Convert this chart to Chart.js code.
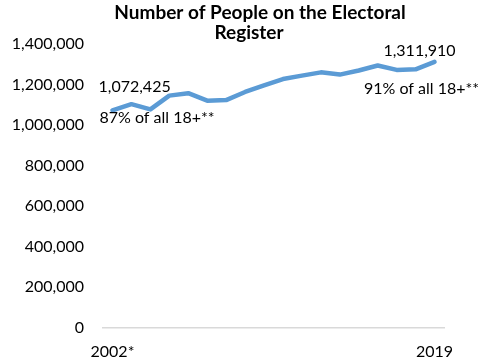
<!DOCTYPE html>
<html>
<head>
<meta charset="utf-8">
<script src="https://cdn.jsdelivr.net/npm/chart.js@4.4.0/dist/chart.umd.min.js"></script>
<style>
  html, body { margin: 0; padding: 0; background: #fff; }
</style>
</head>
<body>
<canvas id="graficoRegistro" width="487" height="364"></canvas>
<script>
// data
const years = ["2002*", "2003", "2004", "2005", "2006", "2007", "2008", "2009", "2010",
  "2011", "2012", "2013", "2014", "2015", "2016", "2017", "2018", "2019"];
const registered = [1072425, 1103000, 1077000, 1145000, 1157000, 1120000, 1123000, 1163000, 1196000,
  1227000, 1244000, 1260000, 1249000, 1269000, 1294000, 1272000, 1275000, 1311910];
const shownYears = ["2002*", "2019"];
const titleLines = ["Number of People on the Electoral", "Register"];
const startNote = "87% of all 18+**";
const endNote = "91% of all 18+**";

const FONT = "Lato, 'Open Sans', sans-serif";
const fmt = (v) => v.toLocaleString("en-US");

// title drawn over the top of the plot, like the original
const tituloPlugin = {
  id: "tituloPlugin",
  afterDraw(chart) {
    const ctx = chart.ctx;
    ctx.save();
    ctx.font = "bold 19px " + FONT;
    ctx.fillStyle = "#000";
    ctx.textAlign = "center";
    ctx.textBaseline = "middle";
    ctx.fillText(titleLines[0], 260, 13);
    ctx.fillText(titleLines[1], 249, 33);
    ctx.restore();
  },
};

// value + share labels at the first and last point
const notasPlugin = {
  id: "notasPlugin",
  afterDatasetsDraw(chart) {
    const ctx = chart.ctx;
    const pts = chart.getDatasetMeta(0).data;
    const first = pts[0];
    const last = pts[pts.length - 1];
    ctx.save();
    ctx.font = "16px " + FONT;
    ctx.fillStyle = "#000";
    ctx.textBaseline = "middle";
    ctx.textAlign = "left";
    ctx.fillText(fmt(registered[0]), first.x - 14, first.y - 23);
    ctx.fillText(startNote, first.x - 13, first.y + 8);
    ctx.textAlign = "center";
    ctx.fillText(fmt(registered[registered.length - 1]), last.x - 15, last.y - 11);
    ctx.fillText(endNote, last.x - 13, last.y + 27);
    ctx.restore();
  },
};

const ctx = document.getElementById("graficoRegistro").getContext("2d");

new Chart(ctx, {
  type: "line",
  data: {
    labels: years,
    datasets: [
      {
        label: "Electoral register",
        data: registered,
        borderColor: "#5B9BD5",
        borderWidth: 4.5,
        borderJoinStyle: "round",
        borderCapStyle: "round",
        pointRadius: 0,
        tension: 0,
        fill: false,
      },
    ],
  },
  options: {
    responsive: false,
    animation: false,
    devicePixelRatio: 1,
    layout: { padding: { top: 44, right: 43, left: 0, bottom: 0 } },
    plugins: {
      legend: { display: false },
      title: { display: false },
      tooltip: { enabled: false },
    },
    scales: {
      x: {
        type: "category",
        offset: true,
        grid: { display: false, drawTicks: false },
        border: { display: true, color: "#d9d9d9", width: 1.5 },
        ticks: {
          autoSkip: false,
          maxRotation: 0,
          padding: 15,
          color: "#000",
          font: { family: FONT, size: 16 },
          callback: function (value, index) {
            const lab = this.getLabelForValue(value);
            return shownYears.includes(lab) ? lab : "";
          },
        },
        afterFit(scale) { scale.height = 36.5; },
      },
      y: {
        min: 0,
        max: 1400000,
        grid: { display: false, drawTicks: false },
        border: { display: false },
        ticks: {
          stepSize: 200000,
          padding: 19,
          color: "#000",
          font: { family: FONT, size: 16 },
          callback: (v) => fmt(v),
        },
        afterFit(scale) { scale.width = 103; },
      },
    },
  },
  plugins: [tituloPlugin, notasPlugin],
});
</script>
</body>
</html>
